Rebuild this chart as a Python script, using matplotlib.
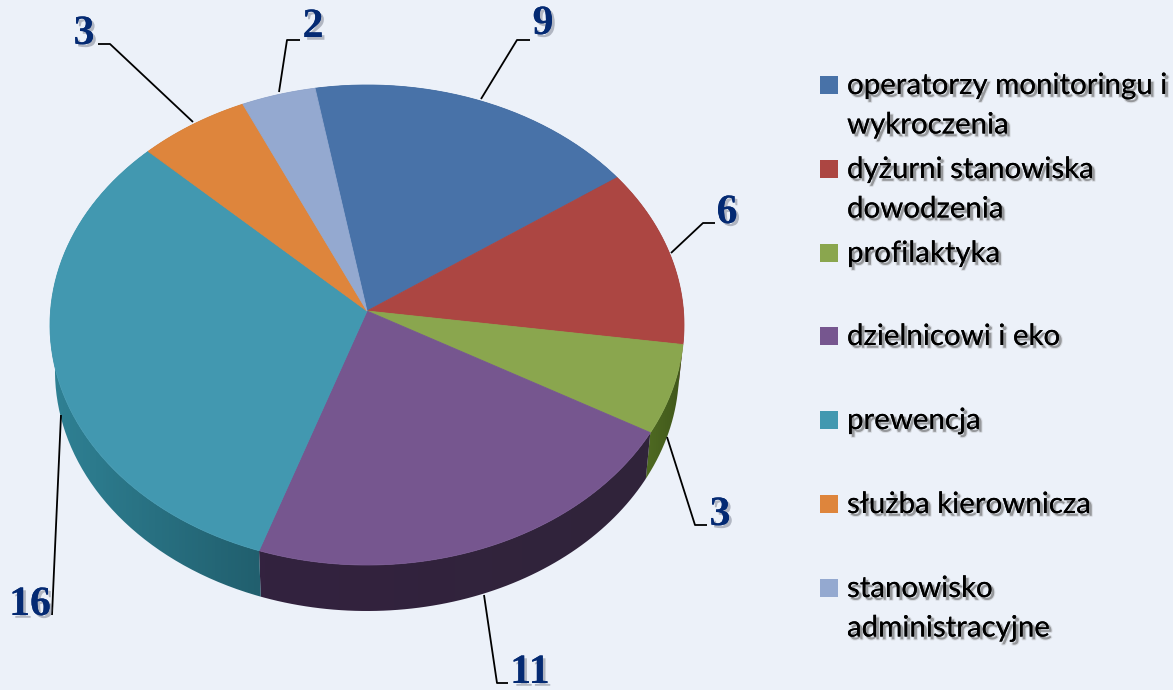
import numpy as np
import matplotlib
matplotlib.use('Agg')
import matplotlib.pyplot as plt
import matplotlib.patheffects as pe
from matplotlib.patches import Polygon, Rectangle
from matplotlib.transforms import Affine2D
from matplotlib.colors import LinearSegmentedColormap

# dane z wykresu
labels = ['operatorzy monitoringu i\nwykroczenia', 'dyżurni stanowiska\ndowodzenia', 'profilaktyka',
          'dzielnicowi i eko', 'prewencja', 'służba kierownicza', 'stanowisko\nadministracyjne']
values = [9, 6, 3, 11, 16, 3, 2]
value_labels = ['9', '6', '3', '11', '16', '3', '2']
colors = ['#4872A8', '#AC4642', '#8AA64E', '#76568F', '#4298B0', '#DE853C', '#94A9D0']
# kolor boku plastra: lewa i prawa strona
side_colors = [('#2F4A70', '#2F4A70'), ('#7A2E2B', '#6E2A28'), ('#4F6A22', '#3F561A'), ('#33223F', '#30243A'),
               ('#2F8194', '#215F6E'), ('#99591F', '#99591F'), ('#62759B', '#62759B')]

# ramki odnośników i pozycje etykiet (piksele)
leaders = [[(481, 99), (517, 40), (530, 40)], [(671, 253), (703, 223), (715, 223)],
           [(667, 437), (695, 525), (707, 525)], [(484, 595), (497, 683), (508, 683)],
           [(61, 415), (52, 615)], [(193, 122), (110, 44), (98, 44)], [(279, 92), (287, 40), (300, 40)]]
label_pos = [(543, 24), (727, 213), (720, 515), (530, 673), (30, 605), (84, 34), (313, 27)]
legend_y = [94, 178, 262, 345, 429, 513, 597]

BG = '#ECF1F9'
CX = 367


def project(pts, cy, rx, ry, apex):
    # rzut perspektywiczny: środek koła trafia w wierzchołek apex nad środkiem elipsy
    k = apex / ry
    den = 1 + k * pts[:, 1]
    px = CX + rx * np.sqrt(1 - k ** 2) * pts[:, 0] / den
    py = cy - (ry * pts[:, 1] + apex) / den
    return np.column_stack([px, py])


fig = plt.figure(figsize=(11.73, 6.9), dpi=100, facecolor=BG)
ax = fig.add_axes([0, 0, 1, 1])
ax.set_xlim(0, 1173)
ax.set_ylim(690, 0)
ax.axis('off')

# wycinki liczy pie, tutaj tylko po to by dostać ich kształt
pie_ax = fig.add_axes([0, 0, 1, 1])
wedges, _ = pie_ax.pie(values, startangle=100, counterclock=False, radius=1)
scale = Affine2D().scale(1000)
shapes = [w.get_path().to_polygons(transform=scale, closed_only=False)[0] / 1000 for w in wedges]
fig.delaxes(pie_ax)

# boki
for pts, (c1, c2) in zip(shapes, side_colors):
    # łuk kończy się tam gdzie ścieżka wraca do środka koła
    centre = np.argmin(np.hypot(pts[:, 0], pts[:, 1]))
    arc = pts[:centre]
    top = project(arc, 325, 317, 240, 14)
    bottom = project(arc, 371, 312, 240, 14)
    strip = Polygon(np.vstack([top, bottom[::-1]]), closed=True, transform=ax.transData, facecolor='none', edgecolor='none')
    ax.add_patch(strip)
    cmap = LinearSegmentedColormap.from_list('side', [c1, c2])
    x0, x1 = strip.get_xy()[:, 0].min(), strip.get_xy()[:, 0].max()
    y0, y1 = strip.get_xy()[:, 1].min(), strip.get_xy()[:, 1].max()
    im = ax.imshow(np.linspace(0, 1, 64).reshape(1, -1), cmap=cmap, extent=(x0, x1, y1, y0), aspect='auto', zorder=1)
    im.set_clip_path(strip)

ax.set_xlim(0, 1173)
ax.set_ylim(690, 0)

# wierzch
for pts, c in zip(shapes, colors):
    ax.add_patch(Polygon(project(pts, 325, 317, 240, 14), closed=True, facecolor=c, edgecolor=c, linewidth=0.6, zorder=2))

# odnośniki i wartości
num_fx = [pe.withSimplePatchShadow(offset=(2, -2), shadow_rgbFace='#6A7080', alpha=0.45), pe.Normal()]
for line, pos, txt in zip(leaders, label_pos, value_labels):
    xs, ys = zip(*line)
    ax.plot(xs, ys, color='black', linewidth=1.3, zorder=3, solid_capstyle='butt')
    ax.text(pos[0], pos[1], txt, family='Liberation Serif', weight='bold', fontsize=30, color='#042A73',
            ha='center', va='center', zorder=4, path_effects=num_fx)

# legenda
txt_fx = [pe.Stroke(offset=(2, -2), linewidth=1.6, foreground='#909090', alpha=0.22),
          pe.withSimplePatchShadow(offset=(2, -2), shadow_rgbFace='#666666', alpha=0.35), pe.Normal()]
for lab, c, y in zip(labels, colors, legend_y):
    ax.add_patch(Rectangle((820, y - 18), 18, 18, facecolor=c, edgecolor='none', zorder=3))
    for i, part in enumerate(lab.split('\n')):
        ax.text(847, y + i * 39.5, part, family='Lato', fontsize=21.2, color='black', ha='left', va='baseline',
                zorder=4, path_effects=txt_fx)

fig.savefig('out.png', dpi=100, facecolor=BG)
